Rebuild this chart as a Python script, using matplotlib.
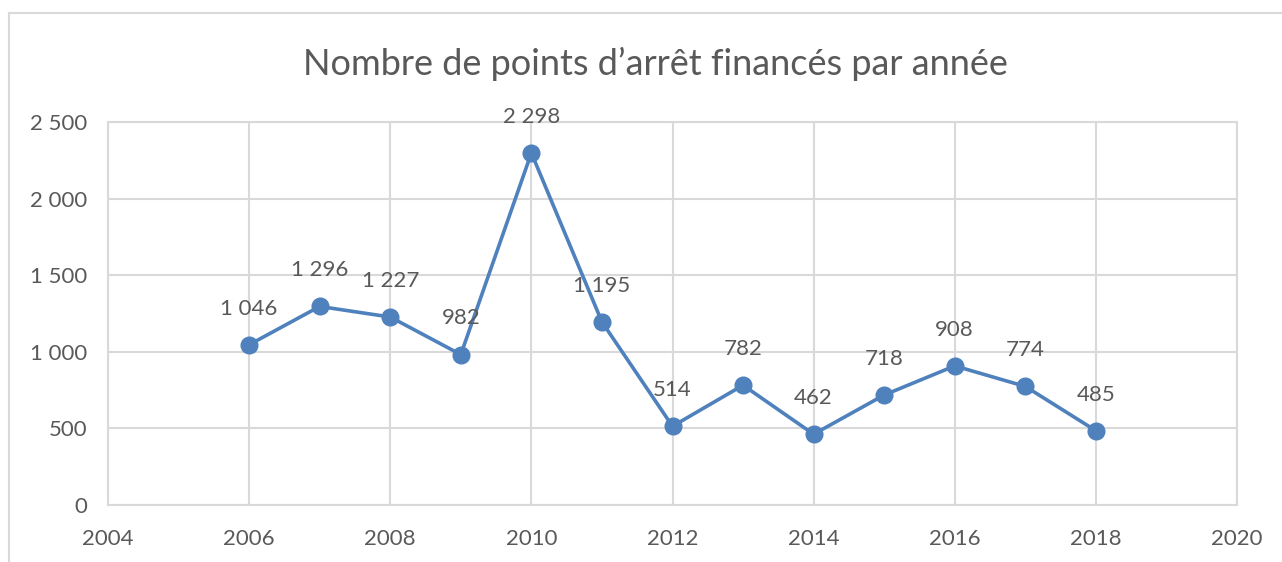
import matplotlib
matplotlib.use("Agg")
import matplotlib.pyplot as plt
from matplotlib.lines import Line2D

# ---- data ----
years = [2006, 2007, 2008, 2009, 2010, 2011, 2012, 2013, 2014, 2015, 2016, 2017, 2018]
points = [1046, 1296, 1227, 982, 2298, 1195, 514, 782, 462, 718, 908, 774, 485]
xticks = [2004, 2006, 2008, 2010, 2012, 2014, 2016, 2018, 2020]
yticks = [0, 500, 1000, 1500, 2000, 2500]

def fr(v):
    return f"{v:,}".replace(",", " ")

plt.rcParams["font.family"] = ["Lato", "DejaVu Sans"]
TXT = "#595959"
GRID = "#d9d9d9"
BLUE = "#4f81bd"

fig = plt.figure(figsize=(12.82, 5.62), dpi=100)
ax = fig.add_axes([108/1282, 57/562, (1237-108)/1282, (505-122)/562])

# outer chart border (top + left only visible)
fig.add_artist(Line2D([9/1282, 1], [1-13/562, 1-13/562], color=GRID, lw=1.5,
                      transform=fig.transFigure))
fig.add_artist(Line2D([9/1282, 9/1282], [0, 1-13/562], color=GRID, lw=1.5,
                      transform=fig.transFigure))

ax.plot(years, points, color=BLUE, lw=2.6, marker="o", ms=12, zorder=3,
        clip_on=False)
for x, y in zip(years, points):
    ax.annotate(fr(y), (x, y), xytext=(0, 26), textcoords="offset points",
                ha="center", va="center", fontsize=16, color=TXT)

ax.set_xlim(2004, 2020)
ax.set_ylim(0, 2500)
ax.set_xticks(xticks)
ax.set_yticks(yticks)
ax.set_yticklabels([fr(v) for v in yticks])
ax.tick_params(length=0, labelsize=16, labelcolor=TXT)
ax.tick_params(axis="x", pad=17)
ax.tick_params(axis="y", pad=15)
ax.grid(color=GRID, lw=1.5)
ax.set_axisbelow(True)
for sp in ax.spines.values():
    sp.set_color(GRID)
    sp.set_linewidth(1.5)

fig.text(0.511, 1-64/562, "Nombre de points d\u2019arr\u00eat financ\u00e9s par ann\u00e9e",
         ha="center", va="center", fontsize=26, color=TXT)

fig.savefig("out.png", dpi=100)
